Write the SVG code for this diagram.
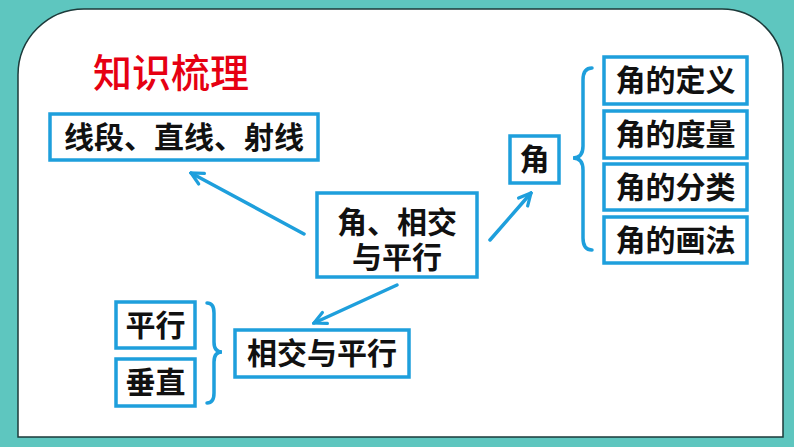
<svg xmlns="http://www.w3.org/2000/svg" width="794" height="447" viewBox="0 0 794 447">
<defs>
<style>
.box{fill:#fff;stroke:#1e9fdc;stroke-width:3.5}
.t{font-family:"Noto Sans CJK SC","Noto Sans CJK JP",sans-serif;font-size:30px;fill:#111;text-anchor:middle;font-weight:700}
.ln{fill:none;stroke:#1e9fdc;stroke-width:3.5;stroke-linecap:round}
</style>
<marker id="ah" viewBox="0 0 16 16" refX="14" refY="8" markerWidth="16" markerHeight="16" markerUnits="userSpaceOnUse" orient="auto">
<path d="M2,2 L14,8 L2,14" fill="none" stroke="#1e9fdc" stroke-width="3.2" stroke-linecap="round" stroke-linejoin="miter"/>
</marker>
</defs>
<rect x="0" y="0" width="794" height="447" fill="#5ec6bf"/>
<path d="M18,75 A66,66 0 0 1 84,9 L722,9 A61,61 0 0 1 783,70 L783,437 L18,437 Z" fill="#fff" stroke="#1d3a3a" stroke-width="1.5"/>
<text x="93" y="87" font-family="Noto Sans CJK SC,sans-serif" font-size="39" font-weight="500" fill="#e60012">知识梳理</text>
<g id="n-xianduan"><rect class="box" x="50" y="114" width="268" height="46"/><text class="t" x="184" y="148">线段、直线、射线</text></g>
<g id="n-center"><rect class="box" x="317" y="193" width="160" height="84"/><text class="t"><tspan x="397" y="233">角、相交</tspan><tspan x="397" y="268">与平行</tspan></text></g>
<g id="n-jiao"><rect class="box" x="510" y="136" width="49" height="47"/><text class="t" x="534.5" y="170">角</text></g>
<g id="n-dingyi"><rect class="box" x="604" y="57" width="143" height="47"/><text class="t" x="675.5" y="91">角的定义</text></g>
<g id="n-duliang"><rect class="box" x="604" y="111" width="143" height="47"/><text class="t" x="675.5" y="145">角的度量</text></g>
<g id="n-fenlei"><rect class="box" x="604" y="164" width="143" height="46"/><text class="t" x="675.5" y="198">角的分类</text></g>
<g id="n-huafa"><rect class="box" x="604" y="217" width="143" height="46"/><text class="t" x="675.5" y="251">角的画法</text></g>
<g id="n-xiangjiao"><rect class="box" x="235" y="330" width="174" height="47"/><text class="t" x="322" y="364">相交与平行</text></g>
<g id="n-pingxing"><rect class="box" x="116" y="302" width="79" height="46"/><text class="t" x="155.5" y="336">平行</text></g>
<g id="n-chuizhi"><rect class="box" x="116" y="359" width="79" height="47"/><text class="t" x="155.5" y="393">垂直</text></g>
<g id="connectors">
<line class="ln" x1="304" y1="234" x2="191" y2="173" marker-end="url(#ah)"/>
<line class="ln" x1="490" y1="240" x2="531" y2="193" marker-end="url(#ah)"/>
<line class="ln" x1="397" y1="285" x2="314" y2="323" marker-end="url(#ah)"/>
<path class="ln" d="M592,68 Q583,68 583,80 L583,146 Q583,158 573,158 Q583,158 583,170 L583,238 Q583,250 592,250"/>
<path class="ln" d="M207,303 Q214,303 214,313 L214,342 Q214,352 222,352 Q214,352 214,362 L214,393 Q214,403 207,403"/>
</g>
</svg>
